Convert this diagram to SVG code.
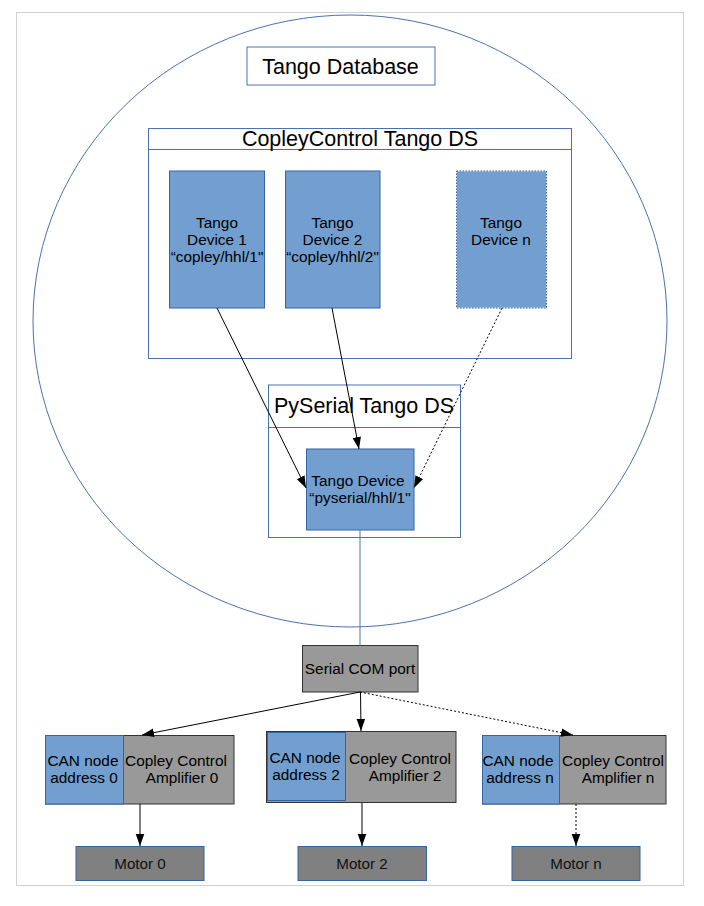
<svg xmlns="http://www.w3.org/2000/svg" width="704" height="906" viewBox="0 0 704 906">
<defs>
<style>
text{font-family:"Liberation Sans",Arial,sans-serif;fill:#000;text-anchor:middle}
.t20{font-size:21.5px}
.t14{font-size:15.4px}
.t13{font-size:15.2px;fill:#111}
.frame{fill:#fff;stroke:#d0d0d0;stroke-width:1}
.outline{fill:#fff;stroke:#4a72b0;stroke-width:1}
.blue{fill:#729fcf;stroke:#3465a4;stroke-width:1}
.gray{fill:#999999;stroke:#333333;stroke-width:1}
.motor{fill:#808080;stroke:#3465a4;stroke-width:1}
.conn{stroke:#000;stroke-width:1;fill:none}
.dot{stroke-dasharray:2,2}
</style>
<marker id="arr" markerUnits="userSpaceOnUse" markerWidth="12" markerHeight="16" refX="14" refY="5" orient="auto" viewBox="0 0 14 10">
<path d="M0,0 L14,5 L0,10 Z" fill="#000"/>
</marker>
</defs>
<rect x="0" y="0" width="704" height="906" fill="#fff"/>
<rect class="frame" x="16.5" y="12.5" width="667" height="873"/>
<ellipse cx="350" cy="321" rx="317" ry="306" fill="none" stroke="#4a72b0" stroke-width="1"/>

<g id="tango-database">
<rect class="outline" x="247" y="47" width="188" height="38"/>
<text class="t20" x="340.5" y="73.5">Tango Database</text>
</g>

<g id="copley-ds">
<rect class="outline" x="148.5" y="128.5" width="423" height="230"/>
<line x1="148.5" y1="149.5" x2="571.5" y2="149.5" stroke="#4a72b0"/>
<text class="t20" x="360" y="146">CopleyControl Tango DS</text>
</g>

<g id="device1">
<rect class="blue" x="169.5" y="171" width="95" height="137"/>
<text class="t14" x="217" y="228">Tango</text>
<text class="t14" x="217" y="245">Device 1</text>
<text class="t14" x="217" y="262">“copley/hhl/1"</text>
</g>

<g id="device2">
<rect class="blue" x="285.5" y="171" width="94.5" height="137"/>
<text class="t14" x="332.5" y="228">Tango</text>
<text class="t14" x="332.5" y="245">Device 2</text>
<text class="t14" x="332.5" y="262">“copley/hhl/2"</text>
</g>

<g id="devicen">
<rect x="456.5" y="171" width="90" height="137" fill="#729fcf" stroke="#e8eef7" stroke-width="1"/>
<rect x="456.5" y="171" width="90" height="137" fill="none" stroke="#3465a4" stroke-width="1" stroke-dasharray="1.5,1.5"/>
<text class="t14" x="501" y="228">Tango</text>
<text class="t14" x="501" y="245">Device n</text>
</g>

<g id="pyserial-ds">
<rect class="outline" x="268.5" y="385" width="192" height="152.5"/>
<line x1="268.5" y1="427.5" x2="460.5" y2="427.5" stroke="#4a72b0"/>
<text class="t20" x="364" y="413">PySerial Tango DS</text>
</g>

<g id="pyserial-device">
<rect class="blue" x="306.5" y="449" width="107.5" height="81"/>
<text class="t14" x="358" y="486">Tango Device</text>
<text class="t14" x="360" y="503">“pyserial/hhl/1"</text>
</g>

<g id="serial-port">
<rect class="gray" x="302.5" y="645.5" width="115.5" height="46.5"/>
<text class="t14" x="360" y="673.5">Serial COM port</text>
</g>

<g id="amp0">
<rect class="gray" x="45.5" y="735.5" width="188.5" height="68.5"/>
<rect class="blue" x="45.5" y="735.5" width="78" height="68.5"/>
<text class="t14" x="83" y="766">CAN node</text>
<text class="t14" x="84" y="782.5">address 0</text>
<text class="t14" x="176" y="766">Copley Control</text>
<text class="t14" x="182" y="782.5">Amplifier 0</text>
</g>

<g id="amp2">
<rect class="gray" x="266.5" y="731.5" width="189.5" height="71"/>
<rect class="blue" x="267.5" y="732.5" width="78" height="68"/>
<text class="t14" x="305" y="763">CAN node</text>
<text class="t14" x="306" y="779.5">address 2</text>
<text class="t14" x="400" y="764">Copley Control</text>
<text class="t14" x="405" y="780.5">Amplifier 2</text>
</g>

<g id="ampn">
<rect class="gray" x="482.5" y="735.5" width="183.5" height="68.5"/>
<rect class="blue" x="482.5" y="735.5" width="77" height="68.5"/>
<text class="t14" x="518" y="766">CAN node</text>
<text class="t14" x="520" y="782.5">address n</text>
<text class="t14" x="613" y="766">Copley Control</text>
<text class="t14" x="618" y="782.5">Amplifier n</text>
</g>

<g id="motor0">
<rect class="motor" x="76" y="846.5" width="128" height="34"/>
<text class="t13" x="140" y="869">Motor 0</text>
</g>
<g id="motor2">
<rect class="motor" x="298" y="846.5" width="128.5" height="34"/>
<text class="t13" x="362" y="869">Motor 2</text>
</g>
<g id="motorn">
<rect class="motor" x="512" y="846.5" width="128" height="34"/>
<text class="t13" x="576" y="869">Motor n</text>
</g>

<g id="connectors">
<line class="conn" x1="217" y1="308" x2="306" y2="488" marker-end="url(#arr)"/>
<line class="conn" x1="332" y1="308" x2="359" y2="449" marker-end="url(#arr)"/>
<line class="conn dot" x1="502" y1="308" x2="414" y2="488" marker-end="url(#arr)"/>
<line x1="360" y1="530" x2="360" y2="645.5" stroke="#4a72b0" stroke-width="1"/>
<line class="conn" x1="360" y1="692" x2="142" y2="735" marker-end="url(#arr)"/>
<line class="conn" x1="360.5" y1="692" x2="361" y2="731" marker-end="url(#arr)"/>
<line class="conn dot" x1="360" y1="692" x2="573" y2="735" marker-end="url(#arr)"/>
<line class="conn" x1="140" y1="804" x2="140" y2="846" marker-end="url(#arr)"/>
<line class="conn" x1="362" y1="803" x2="362" y2="846" marker-end="url(#arr)"/>
<line class="conn dot" x1="576" y1="804" x2="576" y2="846" marker-end="url(#arr)"/>
</g>
</svg>
